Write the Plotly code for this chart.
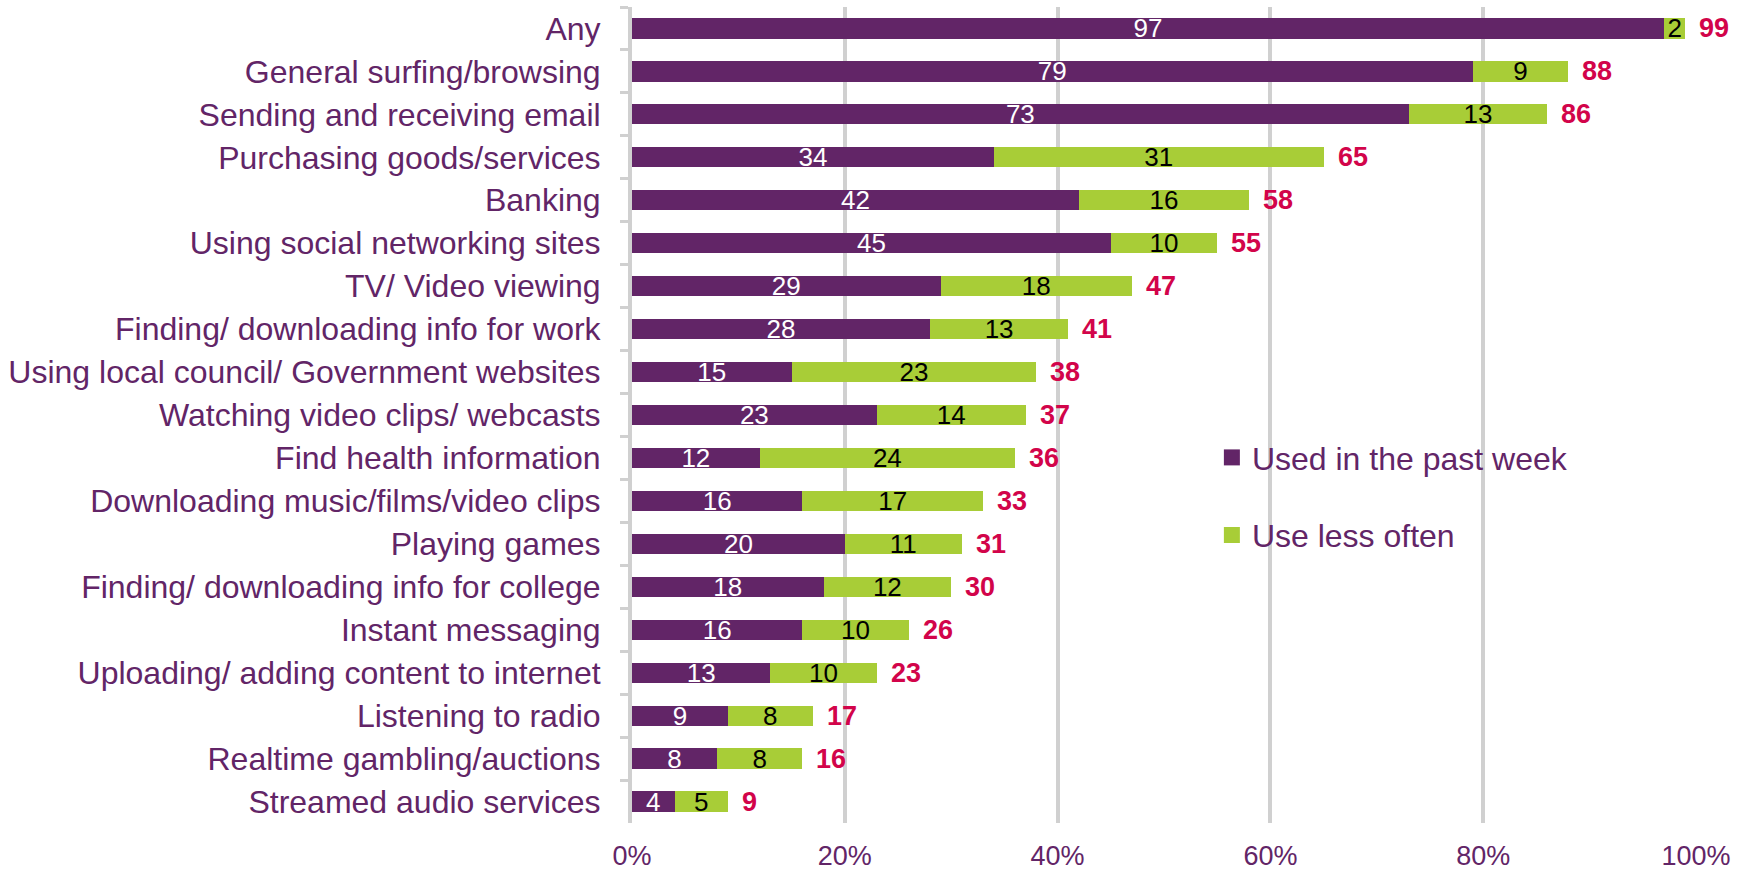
import plotly.graph_objects as go

categories = [
    "Any",
    "General surfing/browsing",
    "Sending and receiving email",
    "Purchasing goods/services",
    "Banking",
    "Using social networking sites",
    "TV/ Video viewing",
    "Finding/ downloading info for work",
    "Using local council/ Government websites",
    "Watching video clips/ webcasts",
    "Find health information",
    "Downloading music/films/video clips",
    "Playing games",
    "Finding/ downloading info for college",
    "Instant messaging",
    "Uploading/ adding content to internet",
    "Listening to radio",
    "Realtime gambling/auctions",
    "Streamed audio services",
]
past_week = [97, 79, 73, 34, 42, 45, 29, 28, 15, 23, 12, 16, 20, 18, 16, 13, 9, 8, 4]
less_often = [2, 9, 13, 31, 16, 10, 18, 13, 23, 14, 24, 17, 11, 12, 10, 10, 8, 8, 5]
totals = [a + b for a, b in zip(past_week, less_often)]

PURPLE = "#622567"
GREEN = "#A8CD37"
RED = "#D2044A"
GRID = "#D0D0D0"
FONT = "Liberation Sans, Arial, sans-serif"

fig = go.Figure()
fig.add_trace(go.Bar(
    y=categories, x=past_week, orientation="h", name="Used in the past week",
    marker=dict(color=PURPLE, line=dict(width=0)),
    text=[str(v) for v in past_week], textposition="inside", textangle=0,
    insidetextanchor="middle", constraintext="none",
    textfont=dict(color="white", size=26, family=FONT),
    showlegend=False, hoverinfo="skip",
))
fig.add_trace(go.Bar(
    y=categories, x=less_often, orientation="h", name="Use less often",
    marker=dict(color=GREEN, line=dict(width=0)),
    text=[str(v) for v in less_often], textposition="inside", textangle=0,
    insidetextanchor="middle", constraintext="none",
    textfont=dict(color="black", size=26, family=FONT),
    showlegend=False, hoverinfo="skip",
))

# legend entries with larger square swatches
for i, (name, col) in enumerate([("Used in the past week", PURPLE), ("Use less often", GREEN)]):
    fig.add_trace(go.Scatter(
        x=[None], y=[None], mode="markers", name=name,
        marker=dict(symbol="square", size=19, color=col),
        legendgroup=f"g{i}", showlegend=True,
    ))

# totals at the end of each stacked bar
for cat, tot in zip(categories, totals):
    fig.add_annotation(
        x=tot, y=cat, text=f"<b>{tot}</b>", showarrow=False,
        xanchor="left", xshift=12, yshift=0,
        font=dict(color=RED, size=27, family=FONT),
    )

fig.update_layout(
    width=1744, height=870,
    barmode="stack", bargap=0.53,
    plot_bgcolor="white", paper_bgcolor="white",
    margin=dict(l=632, r=48, t=7, b=47, autoexpand=False),
    font=dict(family=FONT, color=PURPLE),
    showlegend=True,
    legend=dict(
        x=0.545, y=0.40, xanchor="left", yanchor="middle",
        font=dict(size=32, color=PURPLE, family=FONT),
        traceorder="grouped", tracegroupgap=33,
        bgcolor="rgba(0,0,0,0)", itemwidth=30,
    ),
    xaxis=dict(
        range=[0, 100], dtick=20, ticksuffix="%",
        showgrid=True, gridcolor=GRID, gridwidth=4,
        zeroline=False, showline=False, ticks="",
        tickfont=dict(size=27, color=PURPLE, family=FONT),
        ticklabelstandoff=14,
    ),
    yaxis=dict(
        categoryorder="array", categoryarray=categories,
        autorange="reversed",
        showline=True, linecolor=GRID, linewidth=4,
        ticks="outside", tickson="boundaries", ticklen=8,
        tickcolor=GRID, tickwidth=3,
        tickfont=dict(size=32, color=PURPLE, family=FONT),
        ticklabelstandoff=21,
        showgrid=False,
    ),
)

fig.write_html("out.html")
